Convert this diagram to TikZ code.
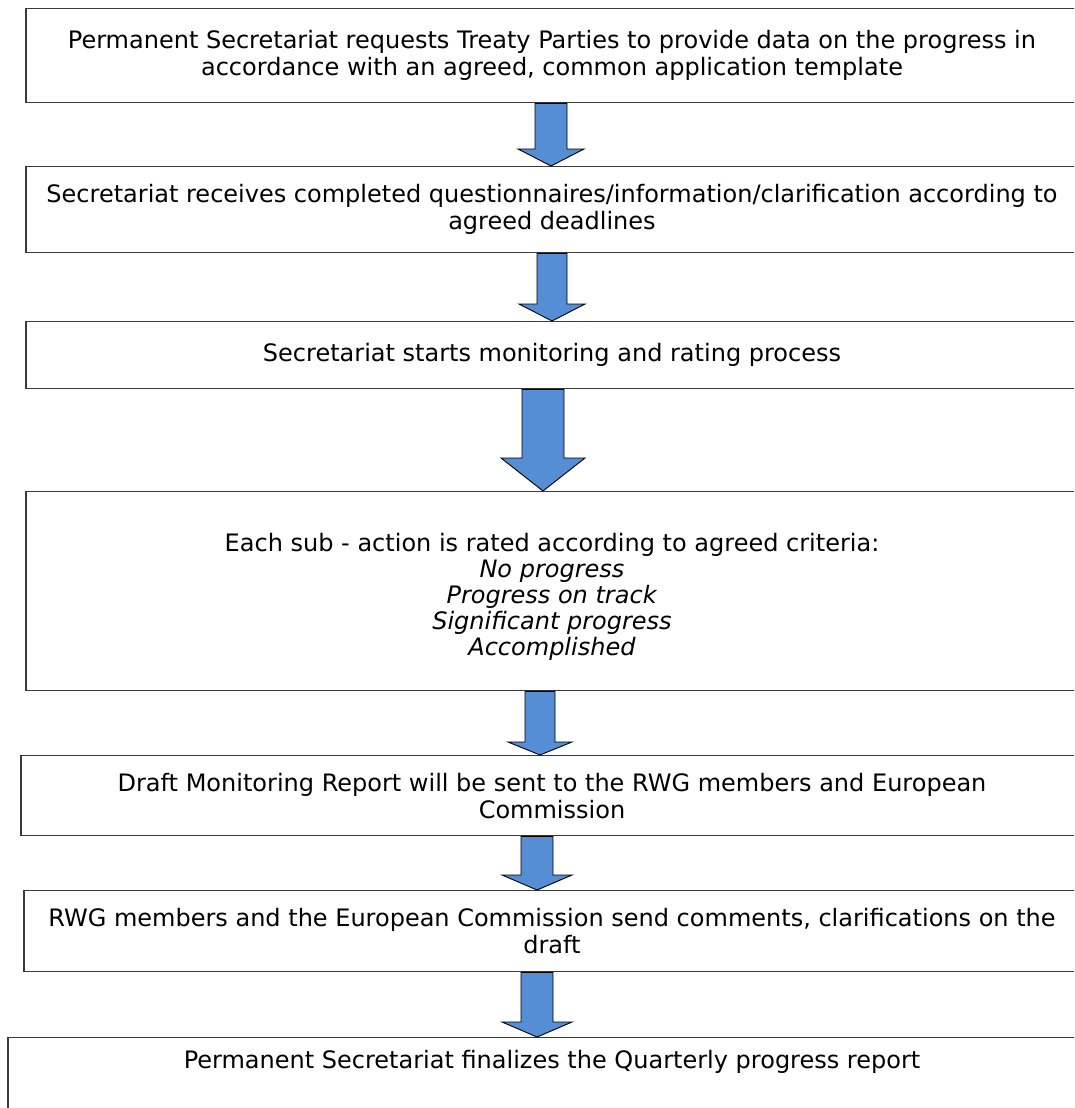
\documentclass[tikz,border=0pt]{standalone}
\usepackage{fontspec}
\setmainfont{DejaVu Sans}
\usepackage{tikz}
\usetikzlibrary{calc}
\usetikzlibrary{positioning}
\definecolor{flow-blue}{HTML}{558ED5}
\definecolor{flow-line}{HTML}{3A3A3A}

% block arrow from the bottom of one stage to the top of the next
% #1 from, #2 to, #3 centre x, #4 shaft half width, #5 head half width, #6 head length
\newcommand{\blockarrow}[6]{%
  \path[block] let \p1=(#1.south), \p2=(#2.north) in
    (#3pt-#4pt,\y1) -- (#3pt+#4pt,\y1) -- (#3pt+#4pt,\y2+#6pt) -- (#3pt+#5pt,\y2+#6pt)
    -- (#3pt,\y2) -- (#3pt-#5pt,\y2+#6pt) -- (#3pt-#4pt,\y2+#6pt) -- cycle;
}

\begin{document}
\begin{tikzpicture}[
    x=1pt, y=-1pt, % pixel grid of the page
    font=\fontsize{24}{27}\selectfont,
    >=latex
  ]

  % Global Style Definitions
  \tikzset{
    stage/.style={draw=flow-line, line width=1.3pt, fill=white, anchor=north, align=center, inner sep=0pt, text=black},
    block/.style={draw=black, line width=0.9pt, fill=flow-blue}
  }

  \useasboundingbox (0,0) rectangle (1074,1108);
  \clip (0,0) rectangle (1074,1108);

  % Vertical Stage Structure
  \node (request)  [stage, minimum width=1052pt, minimum height=94pt] at (552,8)
    {Permanent Secretariat requests Treaty Parties to provide data on the progress in\\accordance with an agreed, common application template};
  \node (receive)  [stage, minimum width=1052pt, minimum height=86pt] at (552,166)
    {Secretariat receives completed questionnaires/information/clarification according to\\agreed deadlines};
  \node (monitor)  [stage, minimum width=1052pt, minimum height=67pt] at (552,321)
    {Secretariat starts monitoring and rating process};
  \node (rate)     [stage, minimum width=1052pt, minimum height=199pt, font=\fontsize{24}{26}\selectfont] at (552,491)
    {\rule{0pt}{30pt}Each sub - action is rated according to agreed criteria:\\\textit{No progress}\\\textit{Progress on track}\\\textit{Significant progress}\\\textit{Accomplished}};
  \node (draft)    [stage, minimum width=1062pt, minimum height=80pt] at (552,755)
    {Draft Monitoring Report will be sent to the RWG members and European\\Commission};
  \node (comments) [stage, minimum width=1056pt, minimum height=81pt] at (552,890)
    {RWG members and the European Commission send comments, clarifications on the\\draft};
  \node (final)    [stage, minimum width=1088pt, text height=31pt, text depth=60pt] at (552,1037)
    {Permanent Secretariat finalizes the Quarterly progress report};

  % Block Arrows between Stages
  \blockarrow{request}{receive}{551}{16}{33}{17}
  \blockarrow{receive}{monitor}{552}{15}{33}{17}
  \blockarrow{monitor}{rate}{543}{21}{42}{33}
  \blockarrow{rate}{draft}{540}{15}{32}{13}
  \blockarrow{draft}{comments}{537}{16}{35}{15}
  \blockarrow{comments}{final}{537}{16}{35}{15}

\end{tikzpicture}
\end{document}
